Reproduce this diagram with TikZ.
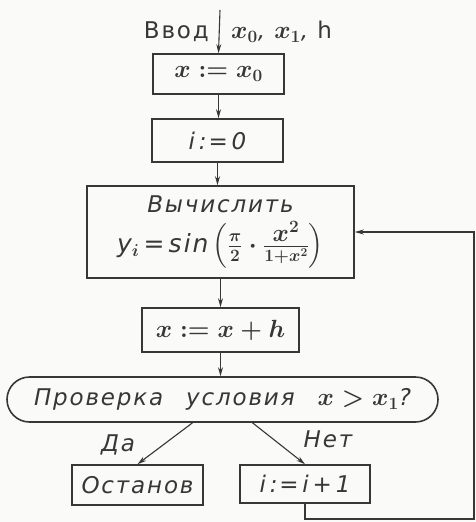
\documentclass[tikz,border=0pt]{standalone}
\usepackage{fontspec}
\usepackage{amsmath}
\setmainfont{DejaVu Sans}
\newfontfamily\stencil[LetterSpace=8]{DejaVu Sans}
\usetikzlibrary{arrows.meta,shapes,positioning}
\definecolor{inkGray}{RGB}{55,55,55}
\definecolor{paperWhite}{RGB}{250,250,248}

\begin{document}
\begin{tikzpicture}[x=1pt, y=-1pt, font=\stencil\itshape\fontsize{23}{27}\selectfont\mathversion{bold},
  blk/.style={draw=inkGray, line width=1.6pt, inner sep=0pt, align=center, text=inkGray},
  flow/.style={draw=inkGray, line width=1.1pt, -{Stealth[length=9pt,width=5pt]}},
  lbl/.style={text=inkGray, inner sep=0pt}]
\fill[paperWhite] (0,0) rectangle (476,522);
\useasboundingbox (0,0) rectangle (476,522);
% blocks of the scheme
\node[blk, minimum width=131pt, minimum height=40pt] (xinit) at (218.5,74) {$x:=x_0$};
\node[blk, minimum width=131pt, minimum height=43pt] (iinit) at (217.5,140.5) {i\,:=\,0};
\node[blk, minimum width=267pt, minimum height=92pt] (calc) at (220.5,232)
  {Вычислить\\[8pt]
   {\fontsize{25}{29}\selectfont y$_i$\,=\,sin\,$\left(\frac{\pi}{2}\cdot\frac{\textstyle x^2}{1+x^2}\right)$}};
\node[blk, minimum width=157pt, minimum height=44pt] (step) at (220.5,330) {$x:=x+h$};
\node[blk, rounded rectangle, minimum width=431pt, minimum height=45pt] (check) at (222.5,399.5)
  {Проверка\hspace{1em}условия\hspace{1em}$x>x_1$?};
\node[blk, minimum width=131pt, minimum height=40pt] (halt) at (137.5,485) {Останов};
\node[blk, minimum width=130pt, minimum height=38pt] (incr) at (305,484) {i\,:=\,i\,+\,1};
% input
\coordinate (inp) at (220,10);
\node[lbl, anchor=east] (inlbl) at (209,32) {\upshape Ввод};
\node[lbl, anchor=west] (invars) at (231,32) {$x_0$, $x_1$, \upshape h};
% connectors
\draw[flow] (inp) -- (xinit.north);
\draw[flow] (xinit.south) -- (xinit.south |- iinit.north);
\draw[flow] (iinit.south) -- (iinit.south |- calc.north);
\draw[flow] (calc.south) -- (step.north);
\draw[flow] (step.south) -- (step.south |- check.north);
\draw[flow] ([xshift=-30pt]check.south) -- (halt.north);
\draw[flow] ([xshift=30pt]check.south) -- (incr.north);
\node[lbl] (yes) at (118,445) {Да};
\node[lbl] (no) at (328,439) {Нет};
% loop back
\coordinate (loop) at (474,519);
\draw[flow] (incr.south) |- (loop) |- (calc.east);
\end{tikzpicture}
\end{document}
